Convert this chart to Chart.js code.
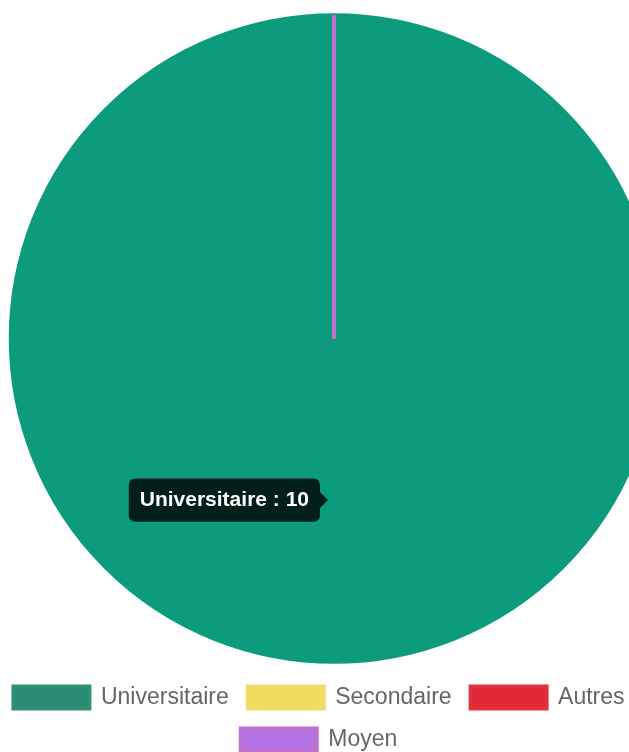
<!DOCTYPE html>
<html lang="fr">
<head>
<meta charset="utf-8">
<title>Niveau d'études</title>
<script src="https://cdn.jsdelivr.net/npm/chart.js@4.4.1/dist/chart.umd.min.js"></script>
<style>
  html, body { margin: 0; padding: 0; background: #ffffff; overflow: hidden; }
  #wrap { position: relative; width: 668px; height: 761px; }
  canvas { display: block; }
</style>
</head>
<body>
<div id="wrap"><canvas id="chart" width="668" height="761"></canvas></div>
<script>
// Education levels and their counts
const categories = ['Universitaire', 'Secondaire', 'Autres', 'Moyen'];
const counts = [10, 0, 0, 0];

// Slice colours
const fillColors = ['#278a72', '#f0da60', '#e12837', '#b473e4'];
const edgeColors = ['#2f8f77', '#f2dc68', '#e3303e', '#c070d0'];
const hoverFillColors = ['#0c9b7d', '#f0da60', '#e12837', '#b473e4'];
const hoverEdgeColors = ['#0c9b7d', '#f2dc68', '#e3303e', '#c070d0'];

const FONT = "'Liberation Sans', Arial, Helvetica, sans-serif";

// Chart.js v4 skips zero-length arcs entirely; draw their border as a radial edge
const zeroSliceEdges = {
  id: 'zeroSliceEdges',
  afterDatasetsDraw(chart) {
    const ctx = chart.ctx;
    chart.getSortedVisibleDatasetMetas().forEach(meta => {
      meta.data.forEach((arc, i) => {
        if (arc.circumference !== 0 || !chart.getDataVisibility(i)) return;
        const o = arc.options;
        if (!o.borderWidth) return;
        ctx.save();
        ctx.strokeStyle = o.borderColor;
        ctx.lineWidth = o.borderWidth;
        ctx.lineCap = 'butt';
        ctx.beginPath();
        ctx.moveTo(arc.x, arc.y);
        ctx.lineTo(arc.x + Math.cos(arc.startAngle) * arc.outerRadius,
                   arc.y + Math.sin(arc.startAngle) * arc.outerRadius);
        ctx.stroke();
        ctx.restore();
      });
    });
  }
};

// Legend rows are laid out over a slightly narrower band than the canvas
const legendBand = {
  id: 'legendBand',
  afterLayout(chart) {
    const lg = chart.legend;
    if (!lg) return;
    lg.left = -6;
    lg.right = 644;
  }
};

const chart = new Chart(document.getElementById('chart'), {
  type: 'pie',
  data: {
    labels: categories,
    datasets: [{
      data: counts,
      backgroundColor: fillColors,
      borderColor: edgeColors,
      hoverBackgroundColor: hoverFillColors,
      hoverBorderColor: hoverEdgeColors,
      borderWidth: 4,
      hoverOffset: 0,
      radius: '99%'
    }]
  },
  options: {
    responsive: false,
    animation: false,
    events: [],
    layout: { padding: { top: 10 } },
    plugins: {
      legend: {
        position: 'bottom',
        labels: {
          color: '#666666',
          font: { family: FONT, size: 23 },
          boxWidth: 76,
          boxHeight: 22,
          padding: 19
        }
      },
      tooltip: {
        enabled: true,
        xAlign: 'right',
        yAlign: 'center',
        displayColors: false,
        backgroundColor: 'rgba(0,0,0,0.8)',
        bodyColor: '#ffffff',
        bodyFont: { family: FONT, size: 21, weight: 'bold' },
        padding: { top: 9, bottom: 9, left: 11, right: 11 },
        caretSize: 8,
        caretPadding: 6,
        cornerRadius: 7,
        callbacks: {
          title: () => '',
          label: (c) => c.label + ' : ' + c.parsed
        }
      }
    }
  },
  plugins: [zeroSliceEdges, legendBand]
});

// Highlight the Universitaire slice and show its tooltip
const focus = [{ datasetIndex: 0, index: 0 }];
chart.setActiveElements(focus);
chart.update();
chart.tooltip.setActiveElements(focus, { x: 0, y: 0 });
chart.draw();
</script>
</body>
</html>
